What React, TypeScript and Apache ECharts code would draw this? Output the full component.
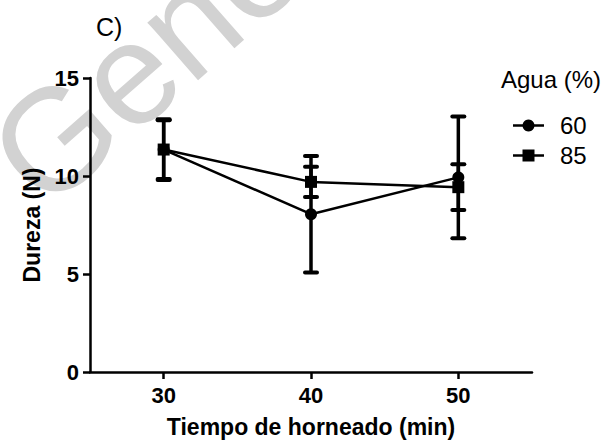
import React, { useEffect, useRef } from "react";
import * as echarts from "echarts";

const xTicks = [30, 40, 50];
const seriesNames = ["60", "85"];
const seriesSymbols = ["circle", "rect"];
const times = [30, 40, 50];
const mean60 = [11.35, 8.05, 9.93];
const err60 = [1.55, 2.97, 3.1];
const mean85 = [11.35, 9.7, 9.43];
const err85 = [1.5, 0.77, 1.17];

const FONT = 'Arial, "Liberation Sans", sans-serif';

function errData(means: number[], errs: number[]) {
  return times.map((t, i) => [t, means[i] - errs[i], means[i] + errs[i]]);
}

function errorSeries(name: string, means: number[], errs: number[]) {
  return {
    type: "custom",
    name: name + " err",
    silent: true,
    z: 1,
    data: errData(means, errs),
    encode: { x: 0, y: [1, 2] },
    renderItem: (params: any, api: any) => {
      const x = api.value(0);
      const lo = api.coord([x, api.value(1)]);
      const hi = api.coord([x, api.value(2)]);
      const hw = 6;
      const style = { stroke: "#000", lineWidth: 4, lineCap: "round" };
      return {
        type: "group",
        children: [
          { type: "line", shape: { x1: lo[0], y1: lo[1], x2: hi[0], y2: hi[1] }, style: { stroke: "#000", lineWidth: 3.5 } },
          { type: "line", shape: { x1: lo[0] - hw, y1: lo[1], x2: lo[0] + hw, y2: lo[1] }, style },
          { type: "line", shape: { x1: hi[0] - hw, y1: hi[1], x2: hi[0] + hw, y2: hi[1] }, style },
        ],
      };
    },
  };
}

function legendGraphics() {
  const out: any[] = [];
  seriesNames.forEach((name, i) => {
    const cy = 125.5 + i * 30;
    out.push({ type: "line", shape: { x1: 513, y1: cy, x2: 544, y2: cy }, style: { stroke: "#000", lineWidth: 2.5 } });
    if (seriesSymbols[i] === "circle") {
      out.push({ type: "circle", shape: { cx: 528.5, cy, r: 6 }, style: { fill: "#000" } });
    } else {
      out.push({ type: "rect", shape: { x: 522.5, y: cy - 6, width: 12, height: 12 }, style: { fill: "#000" } });
    }
    out.push({
      type: "text",
      x: 560,
      y: cy,
      style: { text: name, fontFamily: FONT, fontSize: 24, fill: "#000", align: "left", verticalAlign: "middle" },
    });
  });
  return out;
}

export default function App() {
  const ref = useRef<HTMLDivElement>(null);
  useEffect(() => {
    if (!ref.current) return;
    const chart = echarts.init(ref.current, undefined, { renderer: "svg" });
    const axisLine = { show: true, lineStyle: { color: "#000", width: 2.5 } };
    chart.setOption({
      animation: false,
      backgroundColor: "#fff",
      grid: { left: 90, right: 74, top: 78, bottom: 73, containLabel: false },
      xAxis: {
        type: "value",
        min: 25,
        max: 55,
        name: "Tiempo de horneado (min)",
        nameLocation: "middle",
        nameGap: 43,
        nameTextStyle: { fontFamily: FONT, fontWeight: "bold", fontSize: 23, color: "#000" },
        axisLine,
        splitLine: { show: false },
        axisTick: { show: true, inside: false, length: 7, lineStyle: { color: "#000", width: 2.5 }, customValues: xTicks },
        axisLabel: {
          customValues: xTicks,
          margin: 12,
          fontFamily: FONT,
          fontWeight: "bold",
          fontSize: 22,
          color: "#000",
        },
      },
      yAxis: {
        type: "value",
        min: 0,
        max: 15,
        interval: 5,
        name: "Dureza (N)",
        nameLocation: "middle",
        nameRotate: 90,
        nameGap: 47,
        nameTextStyle: { fontFamily: FONT, fontWeight: "bold", fontSize: 23, color: "#000" },
        axisLine,
        splitLine: { show: false },
        axisTick: { show: true, inside: false, length: 7, lineStyle: { color: "#000", width: 2.5 } },
        axisLabel: { margin: 11, fontFamily: FONT, fontWeight: "bold", fontSize: 22, color: "#000" },
      },
      graphic: [
        {
          type: "text",
          silent: true,
          z: -10,
          x: 60,
          y: 231,
          rotation: 0.72,
          style: {
            text: "Gener",
            fontFamily: FONT,
            fontSize: 145,
            fill: "#d2d2d2",
            align: "left",
            verticalAlign: "bottom",
          },
        },
        {
          type: "text",
          x: 96,
          y: 27,
          style: { text: "C)", fontFamily: FONT, fontSize: 25, fill: "#000", align: "left", verticalAlign: "middle" },
        },
        {
          type: "text",
          x: 501,
          y: 79,
          style: { text: "Agua (%)", fontFamily: FONT, fontSize: 24, fill: "#000", align: "left", verticalAlign: "middle" },
        },
        ...legendGraphics(),
      ],
      series: [
        errorSeries("60", mean60, err60),
        errorSeries("85", mean85, err85),
        {
          type: "line",
          name: seriesNames[0],
          z: 3,
          data: times.map((t, i) => [t, mean60[i]]),
          symbol: seriesSymbols[0],
          symbolSize: 12,
          lineStyle: { color: "#000", width: 2.5 },
          itemStyle: { color: "#000" },
        },
        {
          type: "line",
          name: seriesNames[1],
          z: 4,
          data: times.map((t, i) => [t, mean85[i]]),
          symbol: seriesSymbols[1],
          symbolSize: 12,
          lineStyle: { color: "#000", width: 2.5 },
          itemStyle: { color: "#000" },
        },
      ],
    });
    return () => chart.dispose();
  }, []);
  return (
    <div
      ref={ref}
      style={{ position: "absolute", left: 0, top: 0, width: 606, height: 445, background: "#fff" }}
    />
  );
}
